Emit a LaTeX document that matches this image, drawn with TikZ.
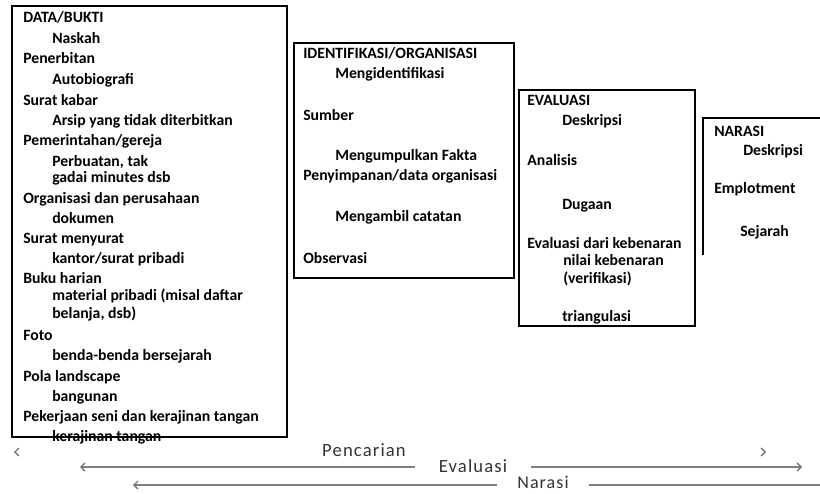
\documentclass[tikz,border=0pt]{standalone}
\usepackage{fontspec}
\setmainfont{Carlito}
\newfontfamily\phasefont[LetterSpace=6]{Carlito}
\usetikzlibrary{arrows.meta}

\tikzset{phasetip/.tip={Straight Barb[length=3pt,width=6pt,color=black!55]}}

\begin{document}
\begin{tikzpicture}[x=0.75pt,y=-0.75pt,
  box/.style={draw=black,line width=1.5pt},
  item/.style={anchor=west,inner sep=0pt,text height=1.5ex,text depth=.3ex,
    font=\bfseries\fontsize{11.8}{14}\selectfont},
  phase/.style={font=\phasefont\fontsize{14}{16}\selectfont,text=black!80,fill=white,inner ysep=1pt},
  flow/.style={draw=black!50,line width=1pt}]
  \useasboundingbox (0,0) rectangle (820,493);
  % four stage boxes
  \draw[box] (12,6) rectangle (287,437);
  \draw[box] (294,43) rectangle (514,278);
  \draw[box] (519,90) rectangle (695,326);
  \draw[box] (703,255) -- (703,118) -- (830,118);
  % data / bukti
  \foreach \y/\x/\t [count=\i] in {19/23/{DATA/BUKTI}, 40/52/Naskah, 60/23/Penerbitan,
      81/52/Autobiografi, 102/23/Surat kabar, 122/52/Arsip yang tidak diterbitkan,
      142/23/{Pemerintahan/gereja}, 163/52/{Perbuatan, tak}, 179/52/gadai minutes dsb,
      200/23/Organisasi dan perusahaan, 220/52/dokumen, 240/23/Surat menyurat,
      260/52/{kantor/surat pribadi}, 280/23/Buku harian, 297/52/{material pribadi (misal daftar},
      315/52/{belanja, dsb)}, 337/23/Foto, 357/52/benda-benda bersejarah, 378/23/Pola landscape,
      398/52/bangunan, 418/23/Pekerjaan seni dan kerajinan tangan, 438/52/kerajinan tangan}
    \node[item] (data\i) at (\x,\y) {\t};
  % identifikasi
  \foreach \y/\x/\t [count=\i] in {55/303/{IDENTIFIKASI/ORGANISASI}, 75/335/Mengidentifikasi,
      117/303/Sumber, 157/335/Mengumpulkan Fakta, 177/303/{Penyimpanan/data organisasi},
      218/335/Mengambil catatan, 260/303/Observasi}
    \node[item] (iden\i) at (\x,\y) {\t};
  % evaluasi
  \foreach \y/\x/\t [count=\i] in {102/527/EVALUASI, 122/562/Deskripsi, 162/527/Analisis,
      206/562/Dugaan, 245/527/Evaluasi dari kebenaran, 262/563/nilai kebenaran,
      280/563/(verifikasi), 318/562/triangulasi}
    \node[item] (eval\i) at (\x,\y) {\t};
  % narasi
  \foreach \y/\x/\t [count=\i] in {133/714/NARASI, 152/743/Deskripsi, 190/714/Emplotment,
      233/740/Sejarah}
    \node[item] (nar\i) at (\x,\y) {\t};
  % phase arrows
  \coordinate (pcL) at (14,452);
  \coordinate (pcR) at (766,452);
  \draw[white,line width=1pt,phasetip-phasetip] (pcL) -- (pcR);
  \node[phase,fill=none] (pencarian) at (364,450) {Pencarian};
  \coordinate (evL) at (80,467);
  \coordinate (evR) at (802,467);
  \draw[flow,phasetip-phasetip] (evL) -- (evR);
  \node[phase,inner xsep=18pt] (evaluasi) at (473,466) {Evaluasi};
  \coordinate (naL) at (133,485);
  \coordinate (naR) at (830,485);
  \draw[flow,phasetip-] (naL) -- (naR);
  \node[phase,inner xsep=15pt,inner ysep=0pt,text depth=0pt,anchor=base,
    font=\phasefont\fontsize{13.5}{15}\selectfont] (narasi) at (543,488) {Narasi};
\end{tikzpicture}
\end{document}
